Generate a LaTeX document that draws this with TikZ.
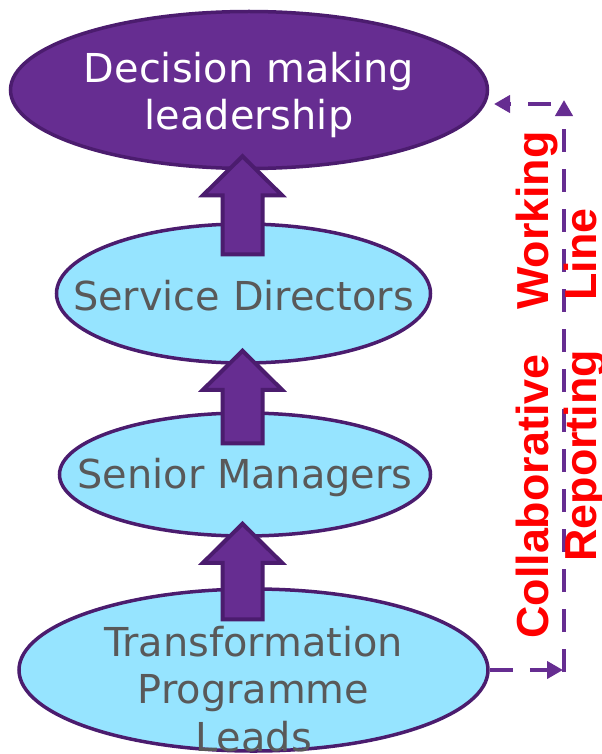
\documentclass[tikz,border=0pt]{standalone}
\usepackage{fontspec}
\setmainfont{DejaVu Sans}
\newfontfamily\boldsans{Liberation Sans}
\usetikzlibrary{shapes,arrows,positioning}
\usetikzlibrary{arrows.meta}
\usetikzlibrary{calc,shapes.geometric}

\definecolor{leadpurple}{HTML}{662D91}
\definecolor{rimpurple}{HTML}{4B1C6E}
\definecolor{levelblue}{HTML}{96E4FF}
\definecolor{levelgray}{HTML}{595959}

\begin{document}
\begin{tikzpicture}[x=1bp, y=1bp,
    leveltext/.style={align=center, inner sep=0pt, font=\fontsize{40}{48}\selectfont},
    level/.style={ellipse, draw=rimpurple, line width=3.5bp, inner sep=0pt},
    lead/.style={level, fill=leadpurple},
    staff/.style={level, fill=levelblue},
    uparrow/.style={fill=leadpurple, draw=rimpurple, line width=4bp, line join=miter},
    dashline/.style={draw=leadpurple, line width=4bp, dash pattern=on 23bp off 17bp,
        -{Triangle[length=16bp,width=17bp]}}]
    \useasboundingbox (0,0) rectangle (602,-754);
    \clip (0,0) rectangle (602,-754);

    % the four levels
    \node[lead, minimum width=477bp, minimum height=157bp,
          label={[leveltext, text=white, yshift=-5bp]center:Decision making\\leadership}] (dm) at (249,-90) {};
    \node[staff, minimum width=374bp, minimum height=139bp,
          label={[leveltext, text=levelgray, yshift=-2bp]center:Service Directors}] (sd) at (243.5,-293.5) {};
    \node[staff, minimum width=371bp, minimum height=123bp,
          label={[leveltext, text=levelgray, yshift=-3bp]center:Senior Managers}] (sm) at (245,-474.5) {};
    \node[staff, minimum width=469bp, minimum height=162bp,
          label={[leveltext, text=levelgray, yshift=-19bp]center:Transformation\\Programme\\Leads}] (tpl) at (253.5,-670) {};

    % block arrows between levels
    \foreach \upper/\lower in {dm/sd, sd/sm, sm/tpl}
      \draw[uparrow] let \p1=(\upper.south), \p2=(\lower.north) in
        (242.5bp,\y1+14bp) -- ++(39.5bp,-39bp) -- ++(-19.5bp,0bp) -- (262.5bp,\y2-32bp)
        -- ++(-40bp,0bp) -- (222.5bp,\y1-25bp) -- ++(-19.5bp,0bp) -- cycle;

    % reporting line
    \coordinate (rb) at (563,-670);
    \coordinate (rt) at (564,-100);
    \coordinate (lt) at (551,-104);
    \coordinate (lb) at (494,-104);
    \draw[dashline] (tpl.east) -- (rb);
    \draw[dashline] (564,-672) -- (rt);
    \draw[dashline] (lt) -- (lb);

    \node[rotate=90, align=center, text=red, inner sep=0pt,
          font=\boldsans\bfseries\fontsize{45}{48}\selectfont] (cwl) at (561,-385)
        {Collaborative\hspace{1em}Working\\Reporting\hspace{1.1em}Line};
\end{tikzpicture}
\end{document}
